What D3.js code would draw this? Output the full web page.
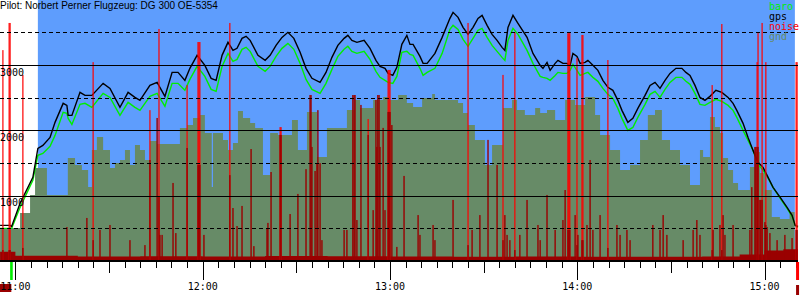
<!DOCTYPE html>
<html>
<head>
<meta charset="utf-8">
<script src="https://cdn.jsdelivr.net/npm/d3@7"></script>
<style>
    body { margin: 0; background: #fff; }
    svg { display: block; }
    .mono { font-family: "DejaVu Sans Mono", monospace; font-size: 10px; }
    .title { font-family: "Liberation Sans", Arial, sans-serif; font-size: 10px; }
</style>
</head>
<body>
<div id="chart"></div>
<script>
// All times are minutes after 11:00
const viewStart = -4.93;
const viewEnd = 250.7;
const skyPeriod = [7.2, 249.7];
const takeoffTime = -1.3;
const landingTime = 250.4;

const trackTimes = [
    -4.9, -1.7, -1.2, 1.5, 5.6, 7.2, 8.8, 11.1, 12.7, 15.3,
    16.5, 16.9, 18.1, 20.7, 22.3, 24.5, 28.1, 30.3, 33.5, 36.1,
    38.3, 39.9, 43.1, 45.4, 47.9, 50.2, 52.1, 54.3, 55.9, 58.2,
    60.7, 62.7, 64.3, 66.2, 68.1, 69.7, 71.0, 72.6, 73.9, 75.2,
    77.7, 80.0, 81.6, 83.5, 85.4, 87.3, 89.2, 91.2, 93.1, 95.0,
    97.6, 99.5, 101.4, 103.3, 105.3, 106.5, 107.8, 109.4, 111.7, 113.6,
    115.5, 116.8, 118.4, 119.4, 120.9, 122.2, 123.8, 125.4, 126.4, 127.4,
    129.6, 130.6, 131.9, 134.4, 136.7, 139.2, 140.2, 141.8, 143.4, 145.0,
    146.6, 148.2, 149.5, 151.1, 152.7, 154.3, 155.9, 156.8, 157.8, 159.4,
    161.0, 163.9, 165.8, 168.1, 169.0, 170.3, 171.3, 172.9, 173.8, 175.4,
    176.7, 177.7, 178.6, 179.9, 180.9, 182.5, 183.4, 185.0, 186.6, 188.2,
    189.8, 191.4, 193.0, 194.3, 196.2, 197.8, 199.4, 201.7, 203.3, 204.9,
    206.5, 208.1, 209.7, 211.6, 213.5, 214.8, 216.1, 217.7, 219.3, 220.9,
    222.5, 224.4, 226.3, 228.3, 229.9, 231.1, 233.1, 234.7, 236.3, 237.9,
    239.5, 240.8, 242.7, 245.0, 247.2, 248.8, 249.8, 250.7
];

const gpsAlt = [
    545, 545, 530, 882, 1280, 1724, 1770, 1892, 2122, 2413,
    2382, 2229, 2229, 2581, 2535, 2535, 2719, 2642, 2352, 2581,
    2504, 2459, 2688, 2734, 2520, 2887, 2887, 2765, 2949, 3148,
    2995, 2796, 2765, 3148, 3347, 3224, 3255, 3408, 3439, 3377,
    3148, 3071, 3148, 3301, 3423, 3500, 3408, 3194, 2949, 2796,
    2734, 2887, 3117, 3301, 3408, 3454, 3377, 3347, 3377, 3255,
    3071, 2979, 2949, 2872, 2841, 2964, 3316, 3454, 3316, 3316,
    3132, 3025, 3025, 3178, 3423, 3714, 3806, 3729, 3576, 3469,
    3576, 3714, 3760, 3607, 3469, 3377, 3270, 3224, 3576, 3760,
    3638, 3423, 3178, 2995, 2949, 3040, 2918, 3025, 3071, 3025,
    3025, 2995, 3178, 3132, 3025, 3040, 3071, 2995, 2918, 2765,
    2658, 2612, 2459, 2306, 2122, 2183, 2336, 2535, 2688, 2734,
    2642, 2765, 2872, 2949, 2949, 2887, 2841, 2688, 2504, 2459,
    2520, 2612, 2581, 2504, 2413, 2306, 2107, 1892, 1693, 1510,
    1433, 1311, 1127, 974, 821, 698, 545, 530
];

const baroAlt = [
    499, 499, 499, 821, 1234, 1617, 1647, 1755, 1923, 2275,
    2260, 2183, 2091, 2398, 2413, 2352, 2566, 2504, 2229, 2428,
    2352, 2306, 2520, 2566, 2367, 2719, 2719, 2612, 2780, 2979,
    2826, 2627, 2597, 2979, 3178, 3056, 3086, 3240, 3270, 3209,
    2979, 2903, 2979, 3132, 3255, 3331, 3240, 3025, 2780, 2627,
    2566, 2719, 2933, 3132, 3240, 3286, 3209, 3178, 3209, 3086,
    2903, 2811, 2765, 2734, 2719, 2826, 3194, 3209, 3163, 3148,
    2949, 2841, 2887, 2949, 3178, 3546, 3607, 3546, 3393, 3286,
    3408, 3530, 3561, 3423, 3301, 3209, 3117, 3071, 3377, 3561,
    3469, 3224, 3025, 2826, 2811, 2796, 2765, 2841, 2887, 2872,
    2872, 2918, 3010, 2918, 2841, 2872, 2887, 2811, 2750, 2642,
    2551, 2489, 2336, 2183, 1999, 2044, 2198, 2398, 2551, 2597,
    2504, 2627, 2734, 2811, 2811, 2750, 2704, 2566, 2398, 2382,
    2428, 2474, 2443, 2382, 2306, 2198, 1999, 1846, 1693, 1479,
    1387, 1295, 1127, 958, 805, 683, 545, 514
];

const gndTimes = [
    -4.9, 1.5, 4.7, 6.3, 10.1, 16.8, 19.1, 21.3, 23.3, 24.5,
    26.1, 28.1, 30.3, 31.9, 33.5, 35.1, 36.7, 38.3, 39.9, 41.5,
    43.1, 45.4, 52.7, 55.0, 56.9, 59.1, 60.7, 62.9, 63.3, 66.5,
    68.1, 69.7, 71.3, 72.9, 75.2, 76.8, 79.3, 81.6, 84.1, 88.6,
    90.5, 93.4, 96.6, 99.8, 103.0, 106.2, 108.8, 110.4, 114.6, 117.8,
    120.0, 122.6, 125.4, 127.4, 130.3, 133.5, 134.4, 141.8, 143.4, 145.0,
    147.2, 150.4, 152.7, 156.2, 159.1, 160.7, 163.2, 166.5, 168.1, 170.3,
    172.9, 176.1, 179.3, 182.5, 185.7, 187.3, 190.5, 193.7, 196.9, 200.1,
    202.6, 204.9, 207.1, 209.7, 212.9, 216.1, 219.3, 220.3, 222.5, 224.1,
    225.7, 226.7, 228.3, 229.9, 231.5, 235.3, 236.9, 238.5, 240.1, 242.3,
    244.9, 248.0, 249.6
];

const gndAlt = [
    505, 735, 1010, 1424, 1010, 1576, 1469, 1393, 1133, 1699,
    1898, 1699, 1424, 1500, 1546, 1699, 1469, 1775, 1699, 1546,
    1837, 1791, 2036, 2082, 2189, 2235, 1959, 1133, 1959, 1852,
    1699, 1806, 2296, 2189, 2112, 2036, 1316, 1959, 1929, 2158,
    1699, 2281, 1592, 2036, 2036, 2311, 2464, 2342, 2464, 2510,
    2464, 2541, 2418, 2357, 2495, 2556, 2464, 2418, 2265, 2082,
    1852, 1469, 1775, 2342, 2464, 2311, 2235, 2342, 2265, 2311,
    2158, 2464, 2388, 2510, 2235, 1929, 1699, 1393, 1469, 1852,
    2235, 2311, 1852, 1699, 1469, 1163, 1699, 1592, 2204, 2051,
    1959, 1576, 1393, 1194, 1087, 1439, 1668, 1347, 1087, 673,
    643, 750, 750
];

// Engine noise (0..1000): low level floor, then single readings
const noiseFloorTimes = [-4.9, 0, 20, 40, 60, 80, 100, 120, 140, 160, 180, 200, 220, 232, 240, 246, 250.7];
const noiseFloor = [35, 20, 17, 18, 17, 19, 18, 17, 16, 17, 16, 16, 17, 25, 40, 45, 45];

const noiseTimes = [
    -4.0, -2.0, -1.7, 2.4, 24.9, 43.1, 46.0, 55.0, 58.5, 58.8,
    59.1, 68.7, 84.8, 85.1, 113.0, 119.4, 119.7, 120.0, 145.0, 156.2,
    160.0, 177.0, 177.3, 177.6, 179.9, 181.5, 181.8, 189.8, 223.2, 226.3,
    237.6, 237.9, 239.2, 240.4, 250.1, 250.4,
    16.5, 22.9, 27.1, 30.3, 36.7, 41.5, 45.4, 46.3, 47.0, 50.5,
    51.4, 60.4, 69.7, 71.0, 72.6, 75.5, 76.4, 80.6, 80.9, 81.9,
    88.0, 90.5, 93.1, 94.4, 94.7, 95.0, 96.0, 96.6, 96.9, 97.6,
    98.2, 105.3, 106.2, 108.1, 108.5, 108.8, 109.4, 110.7, 114.6, 115.5,
    115.8, 116.1, 116.5, 116.8, 117.8, 118.4, 120.6, 122.2, 124.5,
    129.0, 129.6, 133.8, 134.4, 140.2, 146.3, 148.8, 151.4, 154.3, 156.8,
    157.5, 158.4, 161.6, 163.9, 167.4, 168.1, 170.3, 172.9, 175.4, 176.1,
    179.3, 180.2, 183.1, 184.1, 185.0, 187.3, 192.7, 193.7, 195.9, 196.9,
    204.2, 206.5, 207.5, 208.7, 213.9, 217.1, 218.3, 219.3, 223.5, 225.7,
    226.7, 227.3, 229.9, 235.3, 235.9, 236.9, 237.2, 238.5, 238.8, 240.1,
    240.8, 241.7, 244.0, 246.5, 248.8
];

const noisePeak = [
    808, 912, 912, 713, 762, 578, 889, 674, 839, 839,
    839, 912, 513, 513, 544, 732, 732, 732, 912, 713,
    877, 873, 873, 873, 778, 866, 866, 770, 674, 908,
    762, 877, 912, 762, 762, 762,
    0, 0, 0, 0, 0, 0, 0, 0, 0, 0,
    0, 0, 0, 0, 0, 0, 0, 0, 0, 0,
    0, 0, 0, 0, 0, 0, 0, 0, 0, 0,
    0, 0, 0, 0, 0, 0, 0, 0, 0, 0,
    0, 0, 0, 0, 0, 0, 0, 0, 0,
    0, 0, 0, 0, 0, 0, 0, 0, 0, 0,
    0, 0, 0, 0, 0, 0, 0, 0, 0, 0,
    0, 0, 0, 0, 0, 0, 0, 0, 0, 0,
    0, 0, 0, 0, 0, 0, 0, 0, 0, 0,
    0, 0, 0, 0, 0, 0, 0, 0, 0, 0,
    0, 0, 0, 0, 0
];

const noiseAvg = [
    42, 42, 42, 50, 80, 387, 245, 433, 368, 368,
    368, 329, 483, 483, 483, 571, 571, 571, 61, 80,
    42, 119, 119, 119, 61, 80, 80, 50, 42, 42,
    437, 437, 234, 138, 119, 119,
    130, 165, 119, 138, 80, 61, 548, 100, 100, 299,
    107, 100, 203, 134, 211, 429, 57, 126, 146, 341,
    180, 257, 352, 636, 636, 437, 345, 375, 578, 375,
    80, 119, 119, 636, 636, 636, 157, 598, 195, 617,
    437, 636, 636, 437, 510, 195, 521, 54, 326,
    176, 100, 138, 80, 234, 119, 176, 464, 368, 176,
    100, 80, 100, 234, 138, 80, 253, 119, 157, 272,
    176, 100, 138, 387, 119, 176, 138, 100, 119, 80,
    138, 119, 176, 100, 80, 119, 157, 100, 119, 138,
    176, 100, 138, 119, 283, 437, 437, 234, 234, 149,
    130, 107, 80, 100, 88
];

const altGrid = [500, 1000, 1500, 2000, 2500, 3000, 3500];
const altLabels = [1000, 2000, 3000];
const legendNames = ["baro", "gps", "noise", "gnd"];
const chartTitle = "Pilot: Norbert Perner Flugzeug: DG 300 OE-5354";

const colors = {
    sky: "#5e9dfd",
    gnd: "#678b67",
    baro: "#00ee00",
    gps: "#000000",
    noise: "#ff0000",
    noiseDark: "#9a0000"
};
const legendColors = [colors.baro, colors.gps, colors.noise, colors.gnd];

const dimensions = { width: 800, height: 300, plotRight: 798, plotBottom: 261 };

const hourStart = new Date(2000, 0, 1, 11, 0, 0);
const toDate = m => new Date(hourStart.getTime() + m * 60000);

// Scales
const xScale = d3.scaleTime()
    .domain([toDate(viewStart), toDate(viewEnd)])
    .range([0, dimensions.plotRight]);
const xAt = m => xScale(toDate(m));

const yScale = d3.scaleLinear()
    .domain([0, 3995])
    .range([dimensions.plotBottom, 0]);

const noiseScale = d3.scaleLinear()
    .domain([0, 1000])
    .range([dimensions.plotBottom, 0]);

const svg = d3.select("#chart")
    .append("svg")
    .attr("width", dimensions.width)
    .attr("height", dimensions.height);

// Sky background during flight
svg.append("rect")
    .attr("x", xAt(skyPeriod[0]))
    .attr("y", 0)
    .attr("width", xAt(skyPeriod[1]) - xAt(skyPeriod[0]))
    .attr("height", dimensions.plotBottom)
    .attr("fill", colors.sky);

// Ground elevation
const gndData = gndTimes.map((t, i) => ({ t: t, v: gndAlt[i] }));
svg.append("path")
    .datum(gndData)
    .attr("fill", colors.gnd)
    .attr("d", d3.area()
        .curve(d3.curveStepAfter)
        .x(d => xAt(d.t))
        .y0(yScale(0))
        .y1(d => yScale(d.v)));

// Altitude lines
const altLine = values => d3.line()
    .x((d, i) => xAt(trackTimes[i]))
    .y(d => yScale(d))(values);

svg.append("path")
    .attr("d", altLine(baroAlt))
    .attr("fill", "none")
    .attr("stroke", colors.baro)
    .attr("stroke-width", 1.4);

svg.append("path")
    .attr("d", altLine(gpsAlt))
    .attr("fill", "none")
    .attr("stroke", colors.gps)
    .attr("stroke-width", 1.4);

// Noise floor
const floorData = noiseFloorTimes.map((t, i) => ({ t: t, v: noiseFloor[i] }));
svg.append("path")
    .datum(floorData)
    .attr("fill", colors.noiseDark)
    .attr("d", d3.area()
        .curve(d3.curveStepAfter)
        .x(d => xAt(d.t))
        .y0(noiseScale(0))
        .y1(d => noiseScale(d.v)));

// Noise peaks (bright) and averages (dark)
const noiseData = noiseTimes.map((t, i) => ({ t: t, peak: noisePeak[i], avg: noiseAvg[i] }));

svg.append("g")
    .selectAll("rect")
    .data(noiseData.filter(d => d.peak > 0))
    .enter().append("rect")
    .attr("x", d => xAt(d.t) - 0.6)
    .attr("y", d => noiseScale(d.peak))
    .attr("width", 1.2)
    .attr("height", d => noiseScale(0) - noiseScale(d.peak))
    .attr("fill", colors.noise);

svg.append("g")
    .selectAll("rect")
    .data(noiseData)
    .enter().append("rect")
    .attr("x", d => xAt(d.t) - 0.7)
    .attr("y", d => noiseScale(d.avg))
    .attr("width", 1.4)
    .attr("height", d => noiseScale(0) - noiseScale(d.avg))
    .attr("fill", colors.noiseDark);

// Horizontal grid
svg.append("g")
    .selectAll("line")
    .data(altGrid)
    .enter().append("line")
    .attr("x1", 0)
    .attr("x2", dimensions.plotRight)
    .attr("y1", d => Math.round(yScale(d)) + 0.5)
    .attr("y2", d => Math.round(yScale(d)) + 0.5)
    .attr("stroke", "#000")
    .attr("stroke-width", 1)
    .attr("stroke-dasharray", d => d % 1000 === 0 ? null : "4,3")
    .attr("shape-rendering", "crispEdges");

svg.append("g")
    .selectAll("text")
    .data(altLabels)
    .enter().append("text")
    .attr("class", "mono")
    .attr("x", 0)
    .attr("y", d => yScale(d) + 10.5)
    .attr("fill", "#000")
    .text(d => d);

// Time axis
svg.append("line")
    .attr("x1", 0)
    .attr("x2", dimensions.plotRight)
    .attr("y1", dimensions.plotBottom)
    .attr("y2", dimensions.plotBottom)
    .attr("stroke", "#000")
    .attr("stroke-width", 2);

const ticks = d3.timeMinute.every(5).range(xScale.domain()[0], xScale.domain()[1]);
const tickLength = d => d.getMinutes() === 0 ? 18 : (d.getMinutes() === 30 ? 11 : 6);

svg.append("g")
    .selectAll("line")
    .data(ticks)
    .enter().append("line")
    .attr("x1", d => Math.round(xScale(d)) + 0.5)
    .attr("x2", d => Math.round(xScale(d)) + 0.5)
    .attr("y1", dimensions.plotBottom + 1)
    .attr("y2", d => dimensions.plotBottom + 1 + tickLength(d))
    .attr("stroke", "#000")
    .attr("shape-rendering", "crispEdges");

// Takeoff / landing markers
svg.append("rect")
    .attr("x", xAt(takeoffTime) - 1.2)
    .attr("y", dimensions.plotBottom + 1)
    .attr("width", 2.6)
    .attr("height", 18)
    .attr("fill", colors.baro);

svg.append("rect")
    .attr("x", xAt(viewStart))
    .attr("y", 284)
    .attr("width", xAt(takeoffTime) - xAt(viewStart))
    .attr("height", 8)
    .attr("fill", colors.noiseDark);

svg.append("rect")
    .attr("x", xAt(landingTime) - 1)
    .attr("y", dimensions.plotBottom + 1)
    .attr("width", 3)
    .attr("height", 18)
    .attr("fill", colors.noise);

svg.append("rect")
    .attr("x", xAt(landingTime) - 1)
    .attr("y", 285)
    .attr("width", 3)
    .attr("height", 10)
    .attr("fill", colors.noiseDark);

svg.append("g")
    .selectAll("text")
    .data(ticks.filter(d => d.getMinutes() === 0))
    .enter().append("text")
    .attr("class", "mono")
    .attr("x", d => xScale(d))
    .attr("y", 289.5)
    .attr("text-anchor", "middle")
    .attr("fill", "#000")
    .text(d => d3.timeFormat("%H:%M")(d));

// Legend
svg.append("g")
    .selectAll("text")
    .data(legendNames)
    .enter().append("text")
    .attr("class", "mono")
    .attr("x", 769)
    .attr("y", (d, i) => 10 + i * 10)
    .attr("fill", (d, i) => legendColors[i])
    .text(d => d);

// Title
svg.append("text")
    .attr("class", "title")
    .attr("x", 0)
    .attr("y", 9)
    .attr("fill", "#000")
    .text(chartTitle);
</script>
</body>
</html>
